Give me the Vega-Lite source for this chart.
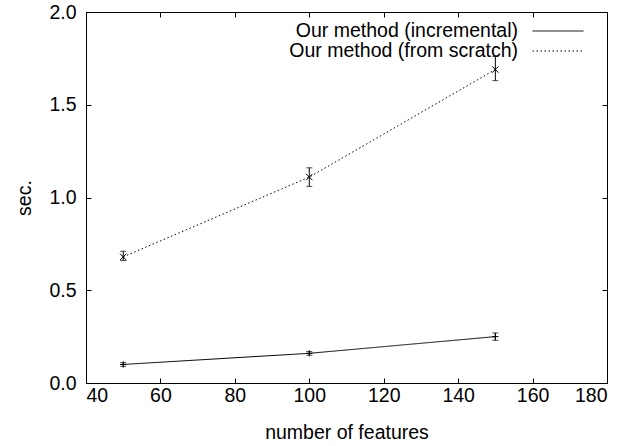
{
  "$schema": "https://vega.github.io/schema/vega-lite/v6.json",
  "autosize": "none",
  "width": 521,
  "height": 371,
  "padding": {"left": 86, "top": 12, "right": 19, "bottom": 63},
  "background": "white",
  "config": {
    "font": "Liberation Sans",
    "view": {"stroke": "black", "strokeWidth": 1},
    "axis": {
      "labelFont": "Liberation Sans",
      "titleFont": "Liberation Sans",
      "labelFontSize": 19.5,
      "titleFontSize": 19.5,
      "titleFontWeight": "normal",
      "labelColor": "black",
      "titleColor": "black",
      "domainColor": "black",
      "tickColor": "black",
      "tickSize": -5,
      "grid": false
    }
  },
  "data": {
    "values": [
      {"features": 50, "series": "Our method (incremental)", "sec": 0.10, "lo": 0.09, "hi": 0.11},
      {"features": 100, "series": "Our method (incremental)", "sec": 0.16, "lo": 0.15, "hi": 0.17},
      {"features": 150, "series": "Our method (incremental)", "sec": 0.25, "lo": 0.23, "hi": 0.27},
      {"features": 50, "series": "Our method (from scratch)", "sec": 0.68, "lo": 0.66, "hi": 0.71},
      {"features": 100, "series": "Our method (from scratch)", "sec": 1.11, "lo": 1.06, "hi": 1.16},
      {"features": 150, "series": "Our method (from scratch)", "sec": 1.69, "lo": 1.63, "hi": 1.76}
    ]
  },
  "layer": [
    {
      "mark": {"type": "line", "color": "black", "strokeWidth": 1},
      "encoding": {
        "x": {"field": "features", "type": "quantitative", "scale": {"domain": [40, 180], "nice": false},
              "axis": {"title": "number of features", "values": [40, 60, 80, 100, 120, 140, 160, 180], "labelPadding": 8, "titlePadding": 19}},
        "y": {"field": "sec", "type": "quantitative", "scale": {"domain": [0, 2], "nice": false},
              "axis": {"title": "sec.", "values": [0, 0.5, 1, 1.5, 2], "format": ".1f", "labelPadding": 15, "titlePadding": 14}},
        "strokeDash": {"field": "series", "type": "nominal",
          "scale": {"domain": ["Our method (incremental)", "Our method (from scratch)"], "range": [[1, 0], [1.5, 2.5]]},
          "legend": {
            "title": null,
            "orient": "none",
            "legendX": 446,
            "legendY": 12,
            "symbolType": "stroke",
            "symbolSize": 2601,
            "symbolStrokeColor": "black",
            "symbolStrokeWidth": 1,
            "labelAlign": "right",
            "labelOffset": -66,
            "labelFontSize": 19.5,
            "labelFont": "Liberation Sans",
            "labelColor": "black",
            "rowPadding": 0,
            "labelLimit": 400,
            "encode": {
              "symbols": {"update": {"y": {"value": 7}}},
              "labels": {"update": {"y": {"value": 7}}}
            }
          }}
      }
    },
    {
      "mark": {"type": "errorbar", "ticks": {"size": 6, "color": "black"}, "rule": {"color": "black"}},
      "encoding": {
        "x": {"field": "features", "type": "quantitative", "scale": {"domain": [40, 180], "nice": false},
              "axis": {"orient": "top", "labels": false, "title": null, "values": [40, 60, 80, 100, 120, 140, 160, 180], "domain": false}},
        "y": {"field": "lo", "type": "quantitative", "scale": {"domain": [0, 2], "nice": false},
              "axis": {"orient": "right", "labels": false, "title": null, "values": [0, 0.5, 1, 1.5, 2], "domain": false}},
        "y2": {"field": "hi"},
        "detail": {"field": "series"}
      }
    },
    {
      "mark": {"type": "point", "filled": false, "color": "black", "strokeWidth": 1, "size": 40, "opacity": 1},
      "encoding": {
        "x": {"field": "features", "type": "quantitative", "axis": null},
        "y": {"field": "sec", "type": "quantitative", "axis": null},
        "shape": {"field": "series", "type": "nominal",
          "scale": {"domain": ["Our method (incremental)", "Our method (from scratch)"], "range": ["M-1,0L1,0M0,-1L0,1", "M-1,-1L1,1M-1,1L1,-1"]},
          "legend": null}
      }
    }
  ],
  "resolve": {"axis": {"x": "independent", "y": "independent"}, "legend": {"shape": "independent", "strokeDash": "independent"}}
}
